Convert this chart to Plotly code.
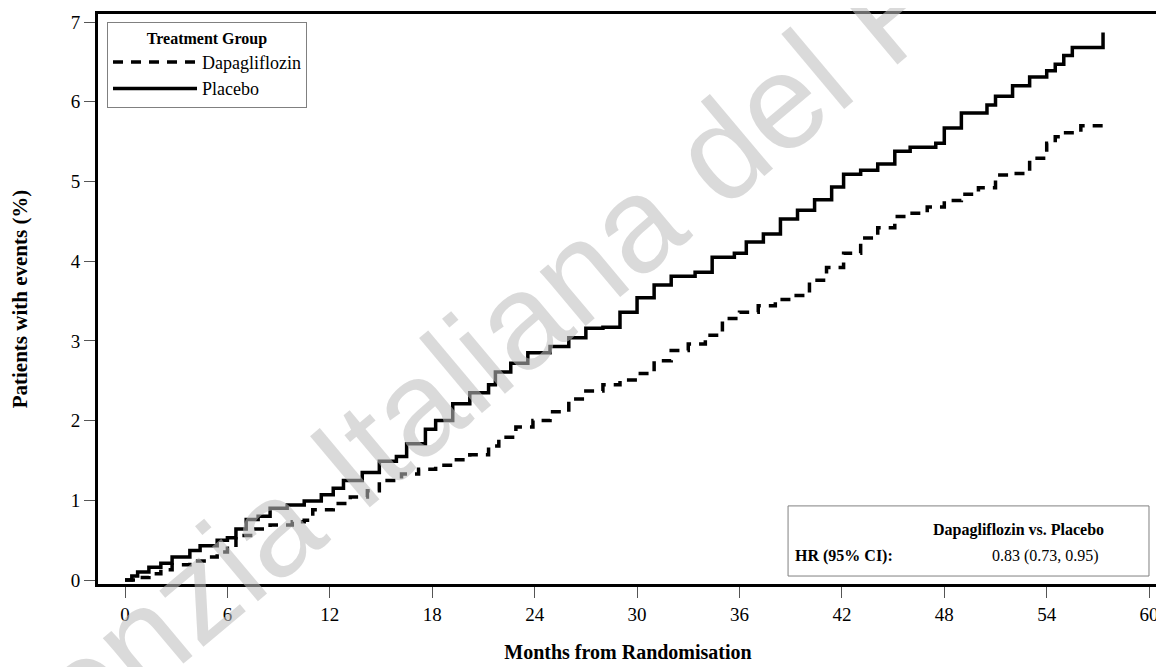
import plotly.graph_objects as go

# ---- data ----
plc_t = [0, 0.4, 0.74, 1.4, 2.1, 2.76, 3.8, 4.4, 5.4, 6.0, 6.5, 7.1, 7.8, 8.5, 9.5, 10.5, 11.5,
         12.2, 12.8, 13.9, 14.9, 15.9, 16.5, 17.6, 18.2, 19.2, 20.2, 21.3, 21.7, 22.6, 23.6,
         24.9, 26.0, 27.0, 28.0, 29.0, 30.0, 31.0, 32.0, 33.4, 34.4, 35.7, 36.4, 37.4, 38.4,
         39.4, 40.4, 41.4, 42.1, 43.1, 44.1, 45.1, 46.0, 47.5, 48.0, 49.0, 50.5, 51.0, 52.0,
         53.0, 54.0, 54.5, 55.0, 55.5, 57.3]
plc_y = [0, 0.05, 0.10, 0.16, 0.21, 0.29, 0.37, 0.43, 0.50, 0.53, 0.64, 0.76, 0.80, 0.90, 0.94,
         0.99, 1.07, 1.15, 1.25, 1.35, 1.49, 1.55, 1.71, 1.89, 2.00, 2.21, 2.35, 2.45, 2.61,
         2.72, 2.85, 2.93, 3.04, 3.16, 3.17, 3.36, 3.54, 3.70, 3.81, 3.86, 4.05, 4.10, 4.24,
         4.34, 4.53, 4.64, 4.77, 4.93, 5.09, 5.14, 5.22, 5.38, 5.43, 5.48, 5.67, 5.86, 5.96,
         6.07, 6.20, 6.31, 6.39, 6.47, 6.58, 6.68, 6.87]

dapa_t = [0, 0.74, 1.4, 2.1, 2.76, 3.8, 4.8, 5.4, 6.0, 6.5, 7.5, 8.5, 9.8, 10.5, 11.0, 12.2,
          13.2, 14.2, 14.9, 16.2, 17.2, 18.2, 19.2, 20.2, 21.3, 21.9, 22.9, 23.9, 24.9, 26.0,
          27.0, 28.0, 29.0, 30.0, 31.0, 32.0, 33.0, 34.0, 35.0, 36.0, 37.1, 38.1, 39.1, 40.1,
          41.1, 42.1, 43.1, 44.1, 45.1, 46.0, 47.0, 48.0, 49.0, 50.0, 51.0, 52.0, 53.0, 54.0,
          54.5, 55.0, 56.0, 57.3]
dapa_y = [0, 0.03, 0.08, 0.13, 0.19, 0.24, 0.29, 0.35, 0.40, 0.56, 0.64, 0.69, 0.73, 0.75,
          0.88, 0.96, 1.04, 1.12, 1.25, 1.33, 1.39, 1.44, 1.51, 1.57, 1.68, 1.79, 1.92, 2.00,
          2.11, 2.27, 2.37, 2.45, 2.51, 2.59, 2.75, 2.88, 2.96, 3.07, 3.28, 3.36, 3.44, 3.52,
          3.57, 3.76, 3.92, 4.10, 4.29, 4.42, 4.56, 4.60, 4.68, 4.76, 4.84, 4.92, 5.08, 5.10,
          5.29, 5.48, 5.56, 5.61, 5.70, 5.70]

x_ticks = [0, 6, 12, 18, 24, 30, 36, 42, 48, 54, 60]
y_ticks = [0, 1, 2, 3, 4, 5, 6, 7]

SERIF = "Liberation Serif, Times New Roman, serif"

fig = go.Figure()
fig.add_trace(go.Scatter(x=dapa_t, y=dapa_y, mode="lines", name="Dapagliflozin",
                         line=dict(color="black", width=3.5, dash="10px,8px", shape="hv")))
fig.add_trace(go.Scatter(x=plc_t, y=plc_y, mode="lines", name="Placebo",
                         line=dict(color="black", width=3.5, shape="hv")))

# the page puts the figure 8px in from the top-left corner, so the figure is 8px smaller
fig.update_layout(
    template="none",
    width=1156, height=659,
    margin=dict(l=90, r=6, t=6, b=83, autoexpand=False),
    paper_bgcolor="white", plot_bgcolor="white",
    font=dict(family=SERIF, color="black", size=16),
    showlegend=True,
    legend=dict(
        x=0.0085, y=0.986, xanchor="left", yanchor="top",
        bordercolor="#808080", borderwidth=1, bgcolor="white",
        font=dict(family=SERIF, size=18, color="black"),
        title=dict(text="<b>Treatment Group</b>", side="top center",
                   font=dict(family=SERIF, size=16, color="black")),
        itemwidth=84, tracegroupgap=4,
    ),
    xaxis=dict(
        range=[-1.582, 60.52], tickvals=x_ticks, ticktext=[str(v) for v in x_ticks],
        showgrid=False, zeroline=False, automargin=False,
        showline=True, linecolor="black", linewidth=3, mirror=True,
        ticks="outside", ticklen=11, tickwidth=1, tickcolor="#555555",
        tickfont=dict(family=SERIF, size=19, color="black"),
        title=dict(text="<b>Months from Randomisation</b>", standoff=22,
                   font=dict(family=SERIF, size=20, color="black")),
    ),
    yaxis=dict(
        range=[-0.05, 7.101], tickvals=y_ticks, ticktext=[str(v) for v in y_ticks],
        showgrid=False, zeroline=False, automargin=False,
        showline=True, linecolor="black", linewidth=3, mirror=True,
        ticks="outside", ticklen=11, tickwidth=1, tickcolor="#555555",
        tickfont=dict(family=SERIF, size=19, color="black"),
        title=dict(text="<b>Patients with events (%)</b>", standoff=39,
                   font=dict(family=SERIF, size=21, color="black")),
    ),
)

# hazard ratio box
fig.add_shape(type="rect", xref="paper", yref="paper", x0=0.651, x1=0.9915, y0=0.014, y1=0.137,
              line=dict(color="#808080", width=1), fillcolor="white", layer="above")
fig.add_annotation(xref="paper", yref="paper", x=0.868, y=0.0947, text="<b>Dapagliflozin vs. Placebo</b>",
                   showarrow=False, xanchor="center", yanchor="middle",
                   font=dict(family=SERIF, size=16, color="black"))
fig.add_annotation(xref="paper", yref="paper", x=0.656, y=0.049, text="<b>HR (95% CI):</b>",
                   showarrow=False, xanchor="left", yanchor="middle",
                   font=dict(family=SERIF, size=16, color="black"))
fig.add_annotation(xref="paper", yref="paper", x=0.894, y=0.049, text="0.83 (0.73, 0.95)",
                   showarrow=False, xanchor="center", yanchor="middle",
                   font=dict(family=SERIF, size=16, color="black"))

# watermark
fig.add_annotation(xref="paper", yref="paper", x=0.471, y=0.577, text="Agenzia Italiana del Farmaco",
                   showarrow=False, xanchor="center", yanchor="middle", textangle=-40,
                   font=dict(family="Liberation Sans, Arial, sans-serif",
                             size=135, color="rgba(190,190,190,0.57)"))

fig.write_html("out.html")
